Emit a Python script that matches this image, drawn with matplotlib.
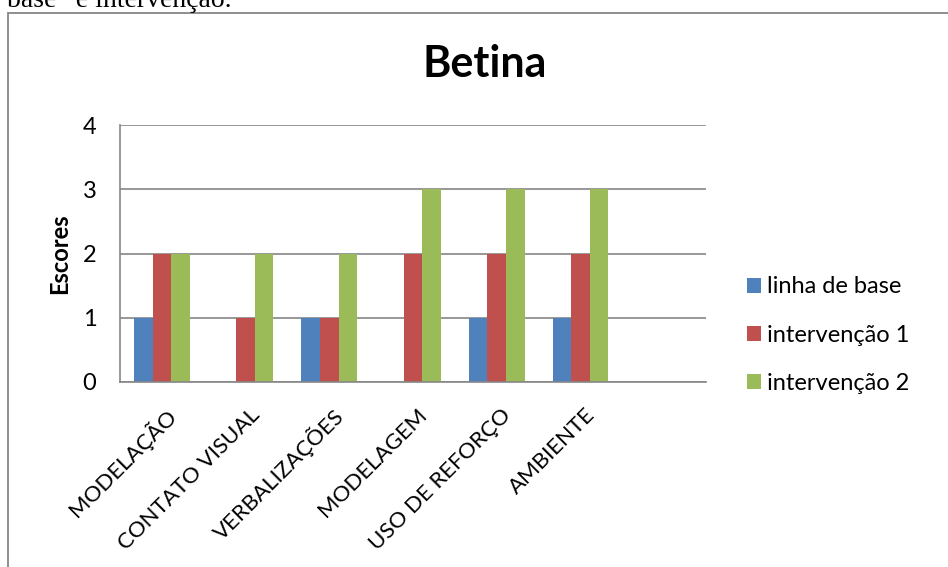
import numpy as np
import matplotlib
matplotlib.use("Agg")
import matplotlib.pyplot as plt
from matplotlib.patches import Rectangle
from matplotlib.transforms import ScaledTranslation

plt.rcParams['font.family'] = ['Lato', 'DejaVu Sans']

categories = ["MODELAÇÃO", "CONTATO VISUAL", "VERBALIZAÇÕES", "MODELAGEM",
              "USO DE REFORÇO", "AMBIENTE"]
series_names = ["linha de base", "intervenção 1", "intervenção 2"]
linha_de_base = [1, 0, 1, 0, 1, 1]
intervencao_1 = [2, 1, 1, 2, 2, 2]
intervencao_2 = [2, 2, 2, 3, 3, 3]
colors = ["#4F81BD", "#C0504D", "#9BBB59"]
yticks = [0, 1, 2, 3, 4]

W, H = 948, 567
fig = plt.figure(figsize=(W / 100, H / 100), dpi=100)
fig.patch.set_facecolor("white")

# surrounding text fragment and chart frame
fig.text(7 / W, 1 - 7 / H, "base” e intervenção.", fontsize=20,
         family="Liberation Serif", ha="left", va="baseline")
fig.add_artist(Rectangle((8 / W, -0.2), 2.0, 1 - 13 / H + 0.2,
                         transform=fig.transFigure, fill=False,
                         edgecolor="#868686", lw=1.3))

ax = fig.add_axes([120 / W, 1 - 382 / H, 586 / W, (382 - 125) / H])
x = np.arange(len(categories))
bw = 0.222
for i, (vals, name) in enumerate(zip([linha_de_base, intervencao_1, intervencao_2], series_names)):
    ax.bar(x + (i - 1) * bw, vals, width=bw, color=colors[i], label=name,
           zorder=3, linewidth=0)

ax.set_xlim(-0.5, len(categories) + 0.5)
ax.set_ylim(0, 4)
ax.set_yticks(yticks)
ax.set_yticklabels([str(v) for v in yticks], fontsize=17)
ax.yaxis.grid(True, color="#868686", lw=1.2, zorder=0)
ax.set_axisbelow(True)
for s in ["top", "right"]:
    ax.spines[s].set_visible(False)
for s in ["left", "bottom"]:
    ax.spines[s].set_color("#868686")
    ax.spines[s].set_linewidth(1.2)
    ax.spines[s].set_zorder(4)
ax.tick_params(axis="both", length=0)
ax.tick_params(axis="y", pad=17)
ax.tick_params(axis="x", pad=0)

ax.set_xticks(x)
ax.set_xticklabels(categories, rotation=45, ha="right", va="center",
                   rotation_mode="anchor", fontsize=16)
off = ScaledTranslation(11 / 100, -30 / 100, fig.dpi_scale_trans)
for lab in ax.get_xticklabels():
    lab.set_transform(lab.get_transform() + off)

ax.set_ylabel("Escores", fontsize=17, fontweight="bold", va="center")
ax.yaxis.set_label_coords(-60 / 586, 0.5)

fig.text(485 / W, 1 - 77 / H, "Betina", fontsize=31, fontweight="bold",
         ha="center", va="baseline")

ax.legend(loc="center left", bbox_to_anchor=(747 / W, 1 - 335 / H),
          bbox_transform=fig.transFigure, frameon=False, fontsize=17,
          handlelength=0.6, handleheight=0.6, handletextpad=0.25,
          labelspacing=1.15, borderpad=0, borderaxespad=0)

fig.savefig("out.png", dpi=100, facecolor="white")
